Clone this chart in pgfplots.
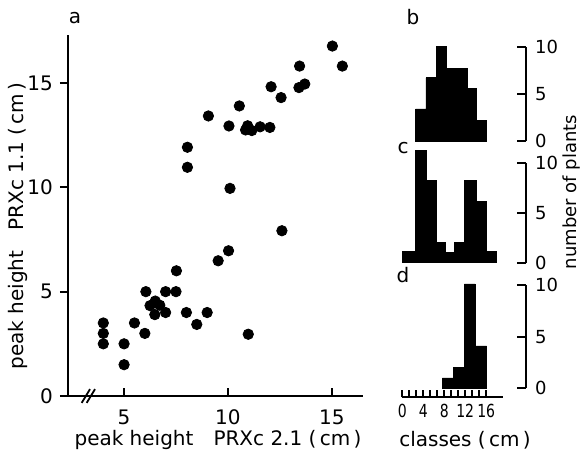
\documentclass[border=0pt]{standalone}
\usepackage{fontspec}
\setmainfont{DejaVu Sans}
\usepackage{graphicx}
\usepackage{pgfplots}
\pgfplotsset{compat=1.18}

\pgfplotsset{
  every axis/.append style={
    scale only axis,
    tick style={line width=0.9pt, black},
    /pgf/number format/assume math mode=true,
  },
  histpanel/.style={
    width=61.85pt, xmin=0, xmax=23.56,
    axis x line=none, axis y line=right,
    axis line style={-, line width=0.9pt},
    ytick={0,5,10}, ytick align=inside, yticklabel pos=right,
    major tick length=4.5pt,
    yticklabel style={font=\fontsize{9}{10}\selectfont, xshift=1pt},
    clip=false,
  },
}

\begin{document}
\begin{tikzpicture}
\useasboundingbox (0pt,0pt) rectangle (294pt,227pt);

% a: scatter
\begin{axis}[
  at={(34pt,29pt)}, anchor=south west,
  width=147.35pt, height=180.5pt,
  xmin=2.3, xmax=16.49, ymin=0, ymax=17.3,
  axis lines=left,
  axis line style={-, line width=0.9pt},
  xtick={5,10,15}, ytick={0,5,10,15},
  xtick align=inside, ytick align=outside,
  major tick length=4pt,
  tick label style={font=\fontsize{10}{12}\selectfont},
  xticklabel style={yshift=-3.5pt},
  clip=false,
]
\addplot[only marks, mark=*, mark size=2.6pt, black] coordinates {
  (4,3.5) (4,3) (4,2.5) (5,2.5) (5,1.5) (5.5,3.5) (6,3) (6.05,5)
  (6.25,4.33) (6.48,3.9) (6.5,4.55) (6.72,4.35) (7,5) (7,4) (7.5,5)
  (7.52,6) (8,4) (8.5,3.43) (9,4) (9.53,6.48) (10.03,6.96) (10.98,2.96)
  (12.6,7.92)
  (8.05,11.92) (8.05,10.96) (10.1,9.95) (9.06,13.42) (10.05,12.94)
  (10.55,13.9) (10.85,12.75) (10.95,12.95) (11.15,12.72) (11.55,12.9)
  (12.02,12.87) (12.08,14.82) (12.56,14.3) (13.42,14.78) (13.7,14.95)
  (13.45,15.81) (15.03,16.77) (15.51,15.81)
};
% axis break
\draw[line width=0.9pt] (axis cs:2.96,-0.33) -- (axis cs:3.36,0.33);
\draw[line width=0.9pt] (axis cs:3.20,-0.33) -- (axis cs:3.60,0.33);
\end{axis}

% b
\begin{axis}[histpanel, at={(201.15pt,156.5pt)}, anchor=south west,
  height=47.15pt, ymin=0, ymax=10]
\addplot[fill=black, draw=black, const plot] coordinates {
  (2.55,3.4) (4.51,6.7) (6.55,10) (8.46,7.7) (12.46,5.6) (14.17,2.2) (15.94,2.2)
} \closedcycle;
\end{axis}

% c
\begin{axis}[histpanel, at={(201.15pt,95.65pt)}, anchor=south west,
  height=49.7pt, ymin=0, ymax=10]
\addplot[fill=black, draw=black, const plot] coordinates {
  (0,1.1) (2.55,11.3) (4.51,8.3) (6.55,2) (8.27,1) (9.9,2) (11.8,8.3)
  (14.17,6.2) (16.08,1.1) (17.98,1.1)
} \closedcycle;
\end{axis}

% d
\begin{axis}[histpanel, at={(201.15pt,32.85pt)}, anchor=south west,
  height=51.65pt, ymin=0, ymax=10]
\addplot[fill=black, draw=black, const plot] coordinates {
  (7.62,1) (9.71,2) (11.8,10.1) (13.85,4.1) (16.08,4.1)
} \closedcycle;
\end{axis}

% classes axis
\begin{axis}[at={(201.15pt,28.35pt)}, anchor=south west,
  width=50.35pt, height=10pt, xmin=0, xmax=19.2, ymin=0, ymax=1,
  axis x line=bottom, axis y line=none,
  axis line style={-, line width=0.9pt},
  xtick={0,4,8,12,16}, minor tick num=2,
  xtick align=inside, major tick length=3.5pt, minor tick length=3.5pt,
  xticklabel={\scalebox{0.78}[1]{\pgfmathprintnumber{\tick}}},
  xticklabel style={font=\fontsize{9}{10}\selectfont, inner xsep=0pt},
]
\end{axis}

\node at (37.5pt,218pt) {\fontsize{10}{12}\selectfont a};
\node at (206.5pt,218.5pt) {\fontsize{10}{12}\selectfont b};
\node at (201.5pt,153pt) {\fontsize{10}{12}\selectfont c};
\node at (201.5pt,89.5pt) {\fontsize{10}{12}\selectfont d};
\node[rotate=90] at (9pt,114pt) {\fontsize{10}{12}\selectfont peak height\hspace{10pt}PRXc 1.1 (\,cm\,)};
\node at (109pt,7pt) {\fontsize{10}{12}\selectfont peak height\hspace{10pt}PRXc 2.1 (\,cm\,)};
\node[rotate=90] at (286pt,131pt) {\fontsize{9}{10}\selectfont number of plants};
\node at (232.5pt,7pt) {\fontsize{10}{12}\selectfont classes (\,cm\,)};
\end{tikzpicture}
\end{document}
